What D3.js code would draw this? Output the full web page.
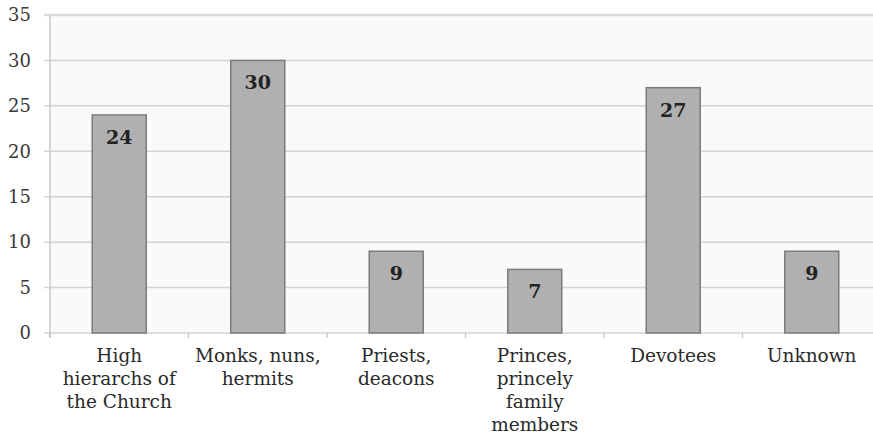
<!DOCTYPE html>
<html>
<head>
<meta charset="utf-8">
<script src="https://cdn.jsdelivr.net/npm/d3@7"></script>
<style>
  html, body { margin: 0; padding: 0; background: #ffffff; overflow: hidden; }
  svg { display: block; }
</style>
</head>
<body>
<svg id="chart" width="873" height="437"></svg>
<script>
// Category labels (one entry per line of the wrapped label)
const categories = [
  ["High", "hierarchs of", "the Church"],
  ["Monks, nuns,", "hermits"],
  ["Priests,", "deacons"],
  ["Princes,", "princely", "family", "members"],
  ["Devotees"],
  ["Unknown"]
];
const values = [24, 30, 9, 7, 27, 9];
const yTicks = [0, 5, 10, 15, 20, 25, 30, 35];

const FONT = "DejaVu Serif, Liberation Serif, serif";

const svg = d3.select("#chart");
const margin = { left: 50, top: 15, right: -8, bottom: 104 };
const width = 873, height = 437;
const plotW = width - margin.left - margin.right;
const plotBottom = height - margin.bottom;

const x = d3.scaleBand()
  .domain(d3.range(categories.length))
  .range([margin.left, margin.left + plotW])
  .paddingInner(0.61)
  .paddingOuter(0.305);

const y = d3.scaleLinear().domain([0, 35]).range([plotBottom, margin.top]);

// plot area background
svg.append("rect")
  .attr("x", margin.left).attr("y", y(35))
  .attr("width", plotW).attr("height", y(0) - y(35))
  .attr("fill", "#fafafa");

// horizontal gridlines
svg.append("g").selectAll("line").data(yTicks).join("line")
  .attr("x1", margin.left - 6).attr("x2", margin.left + plotW)
  .attr("y1", d => y(d)).attr("y2", d => y(d))
  .attr("stroke", d => d === 35 ? "#dcdcdc" : "#d4d4d4")
  .attr("stroke-width", d => d === 35 ? 2.5 : 1.5);

// y axis line
svg.append("line")
  .attr("x1", margin.left).attr("x2", margin.left)
  .attr("y1", y(35)).attr("y2", y(0) + 5)
  .attr("stroke", "#c8c8c8").attr("stroke-width", 1.5);

// y tick labels
svg.append("g").selectAll("text").data(yTicks).join("text")
  .attr("x", 31).attr("y", d => y(d))
  .attr("dy", "0.35em")
  .attr("text-anchor", "end")
  .style("font-family", FONT)
  .attr("font-size", 18)
  .attr("fill", "#3a3a3a")
  .text(d => d);

// x axis category tick marks at band boundaries
const step = x.step();
svg.append("g").selectAll("line").data(d3.range(categories.length + 1)).join("line")
  .attr("x1", i => margin.left + i * step).attr("x2", i => margin.left + i * step)
  .attr("y1", y(0)).attr("y2", y(0) + 5)
  .attr("stroke", "#c0c0c0").attr("stroke-width", 1.2);

// bars
svg.append("g").selectAll("rect").data(values).join("rect")
  .attr("x", (d, i) => x(i))
  .attr("y", d => y(d))
  .attr("width", x.bandwidth())
  .attr("height", d => y(0) - y(d))
  .attr("fill", "#b0b0b0")
  .attr("stroke", "#7c7c7c")
  .attr("stroke-width", 1.5);

// value labels inside the bar tops
svg.append("g").selectAll("text").data(values).join("text")
  .attr("x", (d, i) => x(i) + x.bandwidth() / 2)
  .attr("y", d => y(d) + 29)
  .attr("text-anchor", "middle")
  .style("font-family", FONT)
  .attr("font-size", 19)
  .attr("font-weight", "bold")
  .attr("fill", "#222")
  .text(d => d);

// category labels
const catG = svg.append("g");
categories.forEach((lines, i) => {
  const cx = x(i) + x.bandwidth() / 2;
  const t = catG.append("text")
    .attr("x", cx)
    .attr("y", 362)
    .attr("text-anchor", "middle")
    .style("font-family", FONT)
    .attr("font-size", 18.5)
    .attr("fill", "#2a2a2a");
  lines.forEach((ln, k) => {
    t.append("tspan")
      .attr("x", cx)
      .attr("dy", k === 0 ? 0 : 23)
      .text(ln);
  });
});
</script>
</body>
</html>
